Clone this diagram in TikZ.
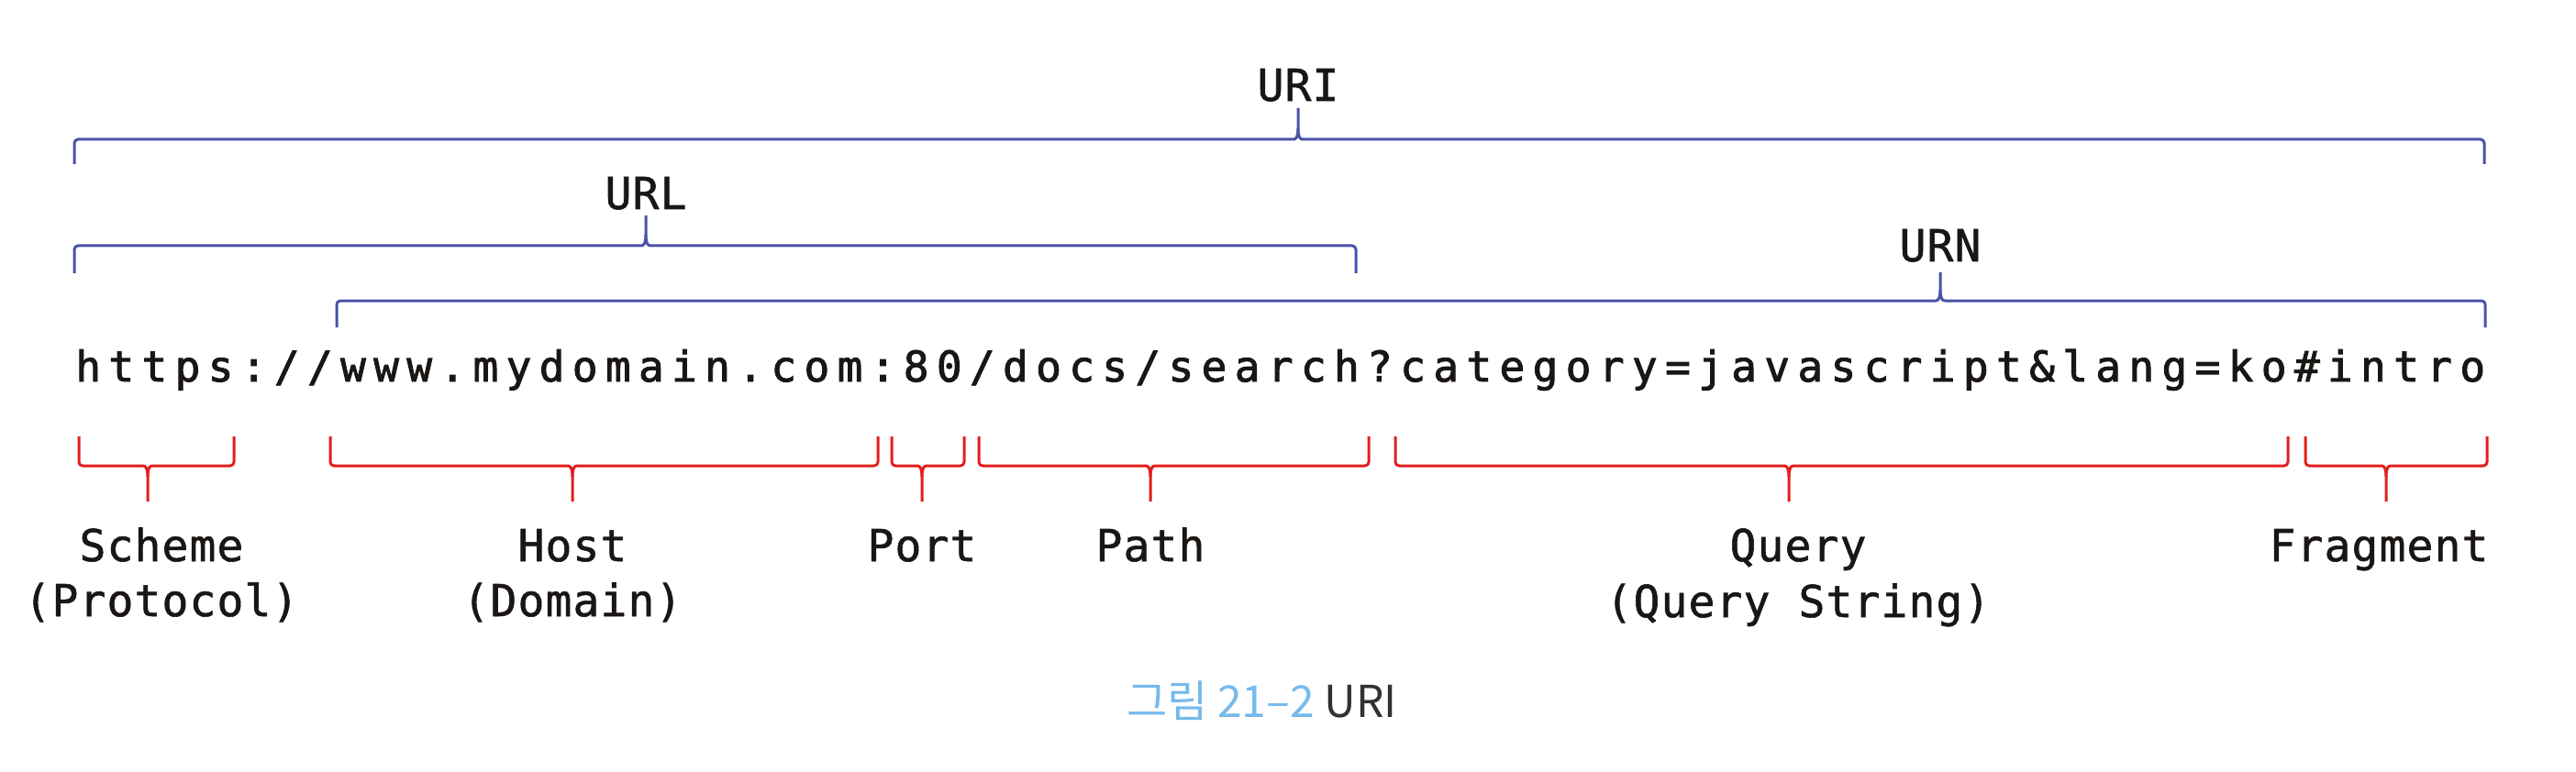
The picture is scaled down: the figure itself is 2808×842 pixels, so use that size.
\documentclass[tikz,border=0pt]{standalone}
\usepackage{fontspec}
\newfontfamily\monof[FakeBold=1.2]{DejaVu Sans Mono}
\newfontfamily\monobf[FakeBold=2]{DejaVu Sans Mono}
\newfontfamily\krf{Noto Sans CJK KR}
\definecolor{bblue}{RGB}{74,82,168}
\definecolor{rred}{RGB}{226,30,30}
\definecolor{ink}{RGB}{26,22,20}
\definecolor{capblue}{RGB}{118,186,236}
\definecolor{capgray}{RGB}{50,50,50}
% fixed-pitch text: each character in a box of the given width
\newcommand\pitchtext[2]{\def\pitchw{#1}\pitchloop#2\relax}
\def\pitchloop#1{\ifx#1\relax\else\makebox[\pitchw][c]{#1}\expandafter\pitchloop\fi}
% bracket with tick upwards (label above)
\newcommand\bluebrk[6]{%
  \draw[bluebr] (#1,#4) [rounded corners=4pt] -- (#1,#3) -- ({#5-9},#3) [sharp corners]
     .. controls ({#5-2},#3) and (#5,{#3-3}) .. (#5,{#3-12}) -- (#5,#6);
  \draw[bluebr] (#2,#4) [rounded corners=4pt] -- (#2,#3) -- ({#5+9},#3) [sharp corners]
     .. controls ({#5+2},#3) and (#5,{#3-3}) .. (#5,{#3-12});}
% bracket with tick downwards (label below)
\newcommand\redbrk[6]{%
  \draw[redbr] (#1,#4) [rounded corners=4pt] -- (#1,#3) -- ({#5-9},#3) [sharp corners]
     .. controls ({#5-2},#3) and (#5,{#3+3}) .. (#5,{#3+12}) -- (#5,#6);
  \draw[redbr] (#2,#4) [rounded corners=4pt] -- (#2,#3) -- ({#5+9},#3) [sharp corners]
     .. controls ({#5+2},#3) and (#5,{#3+3}) .. (#5,{#3+12});}
\tikzset{
  bluebr/.style={draw=bblue, line width=3pt, line join=round},
  redbr/.style={draw=rred, line width=3pt, line join=round},
  toplabel/.style={anchor=base, inner sep=0pt, text=ink, font=\monof\fontsize{48}{58}\selectfont},
  partlabel/.style={anchor=base, inner sep=0pt, text=ink, font=\monof\fontsize{48}{58}\selectfont},
  urltext/.style={anchor=base west, inner sep=0pt, text=ink, font=\monobf\fontsize{46}{56}\selectfont},
}
\begin{document}
\begin{tikzpicture}[x=1pt,y=-1pt]
\useasboundingbox[fill=white] (0,0) rectangle (2808,842);

% upper (blue) brackets and their labels
\node[toplabel] (uri) at (1415,110) {\pitchtext{30pt}{URI}};
\node[toplabel] (url) at (704,228) {\pitchtext{30pt}{URL}};
\node[toplabel] (urn) at (2115,285) {\pitchtext{30pt}{URN}};
\bluebrk{81}{2708}{152}{179}{1415}{118}
\bluebrk{81}{1478}{268}{298}{704}{235}
\bluebrk{367}{2709}{328}{357}{2115}{297}

% the URL itself
\node[urltext] (addr) at (78,416) {\pitchtext{36.1pt}{https://www.mydomain.com:80/docs/search?category=javascript\&lang=ko\#intro}};

% lower (red) brackets
\redbrk{86}{255}{508}{476}{161}{547}
\redbrk{360}{957}{508}{476}{624}{547}
\redbrk{972}{1051}{508}{476}{1005}{547}
\redbrk{1067}{1492}{508}{476}{1254}{547}
\redbrk{1521}{2494}{508}{476}{1950}{547}
\redbrk{2513}{2711}{508}{476}{2601}{547}

% part labels
\node[partlabel] (scheme) at (176,612) {\pitchtext{30pt}{Scheme}};
\node[partlabel] (protocol) at (176,672) {\pitchtext{30pt}{(Protocol)}};
\node[partlabel] (host) at (624,612) {\pitchtext{30pt}{Host}};
\node[partlabel] (domain) at (624,672) {\pitchtext{30pt}{(Domain)}};
\node[partlabel] (port) at (1005,612) {\pitchtext{30pt}{Port}};
\node[partlabel] (path) at (1254,612) {\pitchtext{30pt}{Path}};
\node[partlabel] (query) at (1960,612) {\pitchtext{30pt}{Query}};
\node[partlabel] (qstring) at (1960,673) {\pitchtext{30pt}{(Query~String)}};
\node[partlabel] (fragment) at (2593,612) {\pitchtext{30pt}{Fragment}};

% caption
\node[anchor=base west, inner sep=0pt, font=\krf\fontsize{48}{56}\selectfont] (caption) at (1228,782)
  {\textcolor{capblue}{그림 21–2} \textcolor{capgray}{URI}};
\end{tikzpicture}
\end{document}
